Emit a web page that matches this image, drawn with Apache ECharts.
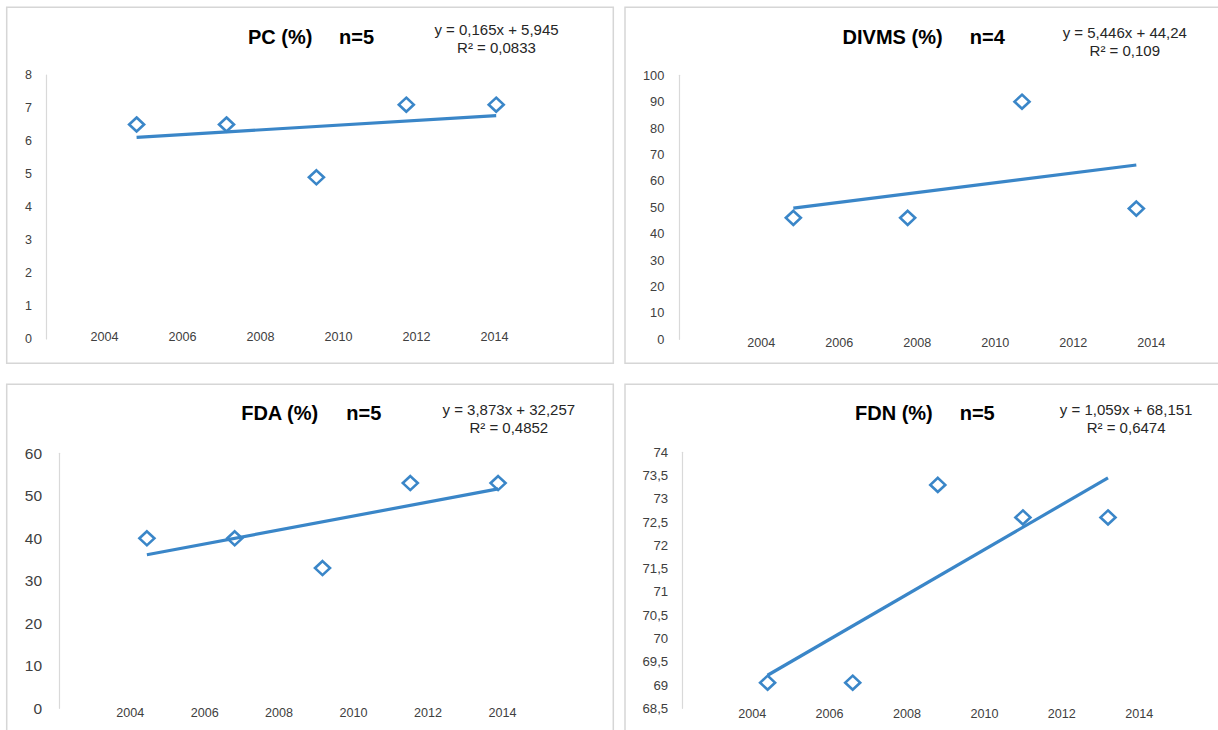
<!DOCTYPE html>
<html>
<head>
<meta charset="utf-8">
<script src="https://cdn.jsdelivr.net/npm/echarts@6/dist/echarts.min.js"></script>
<style>
html,body{margin:0;padding:0;background:#fff;}
#c{width:1218px;height:730px;}
</style>
</head>
<body>
<div id="c"></div>
<script>
// ---------- data ----------
const yearTicks = [2004, 2006, 2008, 2010, 2012, 2014];

const pcX = [1, 2, 3, 4, 5];
const pcY = [6.5, 6.5, 4.9, 7.1, 7.1];
const pcTrend = [6.11, 6.77];

const divmsX = [1, 2, 3, 4];
const divmsY = [46, 46, 90, 49.5];
const divmsTrend = [49.69, 66.02];

const fdaX = [1, 2, 3, 4, 5];
const fdaY = [40, 40, 33, 53, 53];
const fdaTrend = [36.13, 51.62];

const fdnX = [1, 2, 3, 4, 5];
const fdnY = [69.05, 69.05, 73.3, 72.6, 72.6];
const fdnTrend = [69.21, 73.45];

const titles = ['PC (%)', 'DIVMS (%)', 'FDA (%)', 'FDN (%)'];
const nLabels = ['n=5', 'n=4', 'n=5', 'n=5'];
const eqLabels = ['y = 0,165x + 5,945', 'y = 5,446x + 44,24', 'y = 3,873x + 32,257', 'y = 1,059x + 68,151'];
const r2Labels = ['R² = 0,0833', 'R² = 0,109', 'R² = 0,4852', 'R² = 0,6474'];

const yRanges = [[0, 8, 1], [0, 100, 10], [0, 60, 10], [68.5, 74, 0.5]];

// ---------- layout ----------
const FONT = '"Liberation Sans", Arial, sans-serif';
const BLUE = '#3a86c8';
const layout = [
  {grid:{left:46.7, top:75, width:539.4, height:264}, ptsMax:6, yrMin:2002.52, yrMax:2016.35, yFont:12.5, yMargin:14.8, xMargin:-2.3,
   border:[6.7, 7.3, 606.6, 356], title:[248, 339, 37], eq:[496.5, 29.3, 47]},
  {grid:{left:679, top:75.3, width:514.5, height:264}, ptsMax:4.5, yrMin:2001.89, yrMax:2015.08, yFont:12.8, yMargin:14.7, xMargin:3.4,
   border:[625, 7.3, 610, 356], title:[842.6, 969.8, 37], eq:[1124.8, 32.3, 50]},
  {grid:{left:59.1, top:453.3, width:526.8, height:255}, ptsMax:6, yrMin:2002.09, yrMax:2016.24, yFont:15.5, yMargin:17, xMargin:5,
   border:[6.7, 384.3, 606.6, 360], title:[241.2, 346.3, 413.3], eq:[508.8, 409.3, 427.3]},
  {grid:{left:682.5, top:452.3, width:510.6, height:256}, ptsMax:6, yrMin:2002.20, yrMax:2015.39, yFont:13.2, yMargin:14.3, xMargin:5.7,
   border:[625, 384.3, 610, 360], title:[855, 959.7, 413.3], eq:[1126.1, 409.3, 427.3]}
];

const xs = [pcX, divmsX, fdaX, fdnX];
const ys = [pcY, divmsY, fdaY, fdnY];
const trends = [pcTrend, divmsTrend, fdaTrend, fdnTrend];

const grid = [], xAxis = [], yAxis = [], series = [], graphic = [];
layout.forEach((L, i) => {
  grid.push(L.grid);
  // hidden point axis (observation index)
  xAxis.push({type:'value', gridIndex:i, min:0, max:L.ptsMax, show:false});
  // year label axis
  xAxis.push({type:'value', gridIndex:i, min:L.yrMin, max:L.yrMax, position:'bottom',
    axisLine:{show:false}, axisTick:{show:false}, splitLine:{show:false},
    axisLabel:{customValues:yearTicks, margin:L.xMargin, verticalAlign:'middle',
      color:'#404040', fontFamily:FONT, fontSize:12.6,
      showMinLabel:true, showMaxLabel:true, hideOverlap:false,
      formatter: v => String(Math.round(v))}
  });
  const yr = yRanges[i];
  yAxis.push({type:'value', gridIndex:i, min:yr[0], max:yr[1], interval:yr[2],
    axisLine:{show:true, lineStyle:{color:'#d9d9d9', width:1.2}},
    axisTick:{show:false}, splitLine:{show:false},
    axisLabel:{color:'#404040', fontFamily:FONT, fontSize:L.yFont, margin:L.yMargin,
      formatter: v => String(v).replace('.', ',')}
  });
  const n = xs[i].length;
  series.push({type:'line', xAxisIndex:2*i, yAxisIndex:i,
    data:[[xs[i][0], trends[i][0]], [xs[i][n-1], trends[i][1]]],
    showSymbol:false, lineStyle:{color:BLUE, width:3.2}, z:2, silent:true});
  series.push({type:'scatter', xAxisIndex:2*i, yAxisIndex:i,
    data: xs[i].map((x, k) => [x, ys[i][k]]),
    symbol:'diamond', symbolSize:[15, 14],
    itemStyle:{color:'rgba(255,255,255,0)', borderColor:BLUE, borderWidth:2.6, opacity:1}, z:3});

  const b = L.border;
  graphic.push({type:'rect', shape:{x:b[0], y:b[1], width:b[2], height:b[3]},
    style:{fill:'none', stroke:'#d6d6d6', lineWidth:1.5}, silent:true, z:-1});
  const t = L.title;
  graphic.push({type:'text', x:t[0], y:t[2], silent:true,
    style:{text:titles[i], font:'bold 20px ' + FONT, fill:'#000', align:'left', verticalAlign:'middle', textAlign:'left', textVerticalAlign:'middle'}});
  graphic.push({type:'text', x:t[1], y:t[2], silent:true,
    style:{text:nLabels[i], font:'bold 20px ' + FONT, fill:'#000', align:'left', verticalAlign:'middle', textAlign:'left', textVerticalAlign:'middle'}});
  const e = L.eq;
  graphic.push({type:'text', x:e[0], y:e[1], silent:true,
    style:{text:eqLabels[i], font:'15px ' + FONT, fill:'#262626', align:'center', verticalAlign:'middle', textAlign:'center', textVerticalAlign:'middle'}});
  graphic.push({type:'text', x:e[0], y:e[2], silent:true,
    style:{text:r2Labels[i], font:'15px ' + FONT, fill:'#262626', align:'center', verticalAlign:'middle', textAlign:'center', textVerticalAlign:'middle'}});
});

const chart = echarts.init(document.getElementById('c'), null, {renderer:'svg'});
chart.setOption({
  animation:false,
  backgroundColor:'#fff',
  grid, xAxis, yAxis, series, graphic
});
</script>
</body>
</html>
